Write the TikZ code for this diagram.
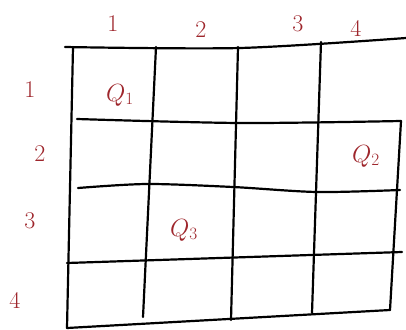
\documentclass[tikz,border=0pt]{standalone}
\usetikzlibrary{positioning}

\definecolor{inkred}{RGB}{158,38,44}

\tikzset{
    gridline/.style={line width=2.2pt, line cap=round, line join=round},
    label/.style={text=inkred, font=\fontsize{24}{28}\selectfont},
    queen/.style={text=inkred, font=\fontsize{27}{32}\selectfont}
}

\begin{document}
\begin{tikzpicture}[x=1pt, y=-1pt]
    \useasboundingbox (0, 0) rectangle (406, 329);

    % column labels
    \node[label] (c1) at (113, 24) {1};
    \node[label] (c2) at (201, 30) {2};
    \node[label] (c3) at (298, 24) {3};
    \node[label] (c4) at (356, 28) {4};

    % row labels
    \node[label] (r1) at (30, 90) {1};
    \node[label] (r2) at (40, 154) {2};
    \node[label] (r3) at (30, 221) {3};
    \node[label] (r4) at (15, 300) {4};

    % horizontal lines
    \draw[gridline] plot[smooth] coordinates {(65, 47) (240, 48) (406, 38)};
    \draw[gridline] plot[smooth] coordinates {(77, 119) (240, 123) (401, 121)};
    \draw[gridline] plot[smooth] coordinates {(78, 188) (147, 184) (233, 187) (317, 192) (400, 190)};
    \draw[gridline] (67, 263) -- (402, 252);
    \draw[gridline] (67, 328) -- (390, 310);

    % vertical lines
    \draw[gridline] (73, 47) -- (67, 328);
    \draw[gridline] (156, 47) -- (143, 317);
    \draw[gridline] (238, 47) -- (231, 320);
    \draw[gridline] (321, 42) -- (312, 313);
    \draw[gridline] (401, 121) -- (390, 310);

    % queens
    \node[queen] (q1) at (120, 95) {$Q_1$};
    \node[queen] (q2) at (366, 156) {$Q_2$};
    \node[queen] (q3) at (184, 230) {$Q_3$};
\end{tikzpicture}
\end{document}
